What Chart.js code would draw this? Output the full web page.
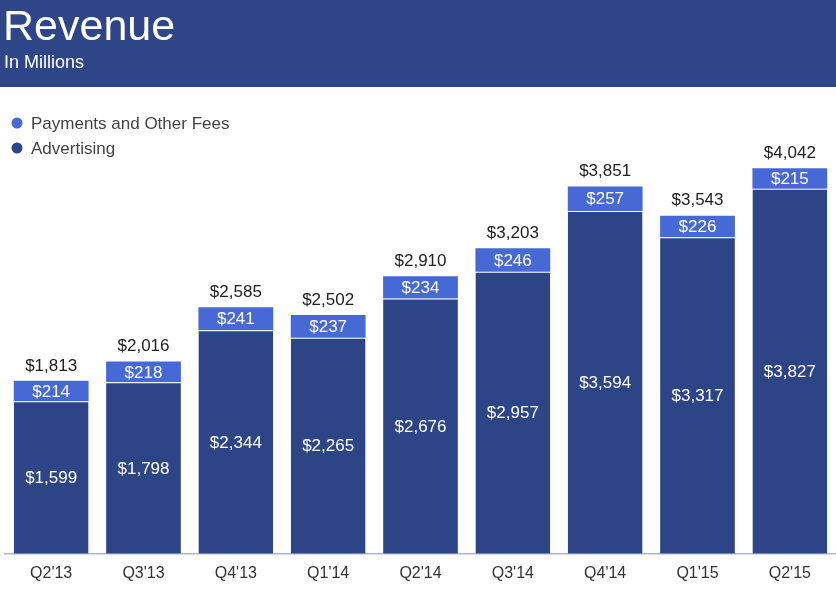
<!DOCTYPE html>
<html>
<head>
<meta charset="utf-8">
<script src="https://cdn.jsdelivr.net/npm/chart.js@4/dist/chart.umd.min.js"></script>
<style>
html,body{margin:0;padding:0;background:#fff;}
#wrap{position:relative;width:836px;height:596px;}
</style>
</head>
<body>
<div id="wrap"><canvas id="c" width="836" height="596"></canvas></div>
<script>
const categories = ["Q2'13","Q3'13","Q4'13","Q1'14","Q2'14","Q3'14","Q4'14","Q1'15","Q2'15"];
const advertising = [1599,1798,2344,2265,2676,2957,3594,3317,3827];
const payments = [214,218,241,237,234,246,257,226,215];
const title = "Revenue";
const subtitle = "In Millions";

const FONT = "'Liberation Sans', Arial, Helvetica, sans-serif";
const DARK = "#2D4487";
const LIGHT = "#4769D6";
const HEADER = "#2E4688";

function money(v){ return "$" + v.toLocaleString("en-US"); }

const decor = {
  id: 'decor',
  beforeDraw(chart){
    const ctx = chart.ctx;
    ctx.save();
    ctx.fillStyle = HEADER;
    ctx.fillRect(0,0,chart.width,87);
    ctx.fillStyle = "#fff";
    ctx.textBaseline = "alphabetic";
    ctx.textAlign = "left";
    ctx.font = "43px " + FONT;
    ctx.fillText(title, 3, 40);
    ctx.font = "18px " + FONT;
    ctx.fillText(subtitle, 4, 68);
    const items = [chart.data.datasets[1], chart.data.datasets[0]];
    ctx.font = "17px " + FONT;
    ctx.textBaseline = "middle";
    items.forEach((ds,i)=>{
      const y = 123 + i*25;
      ctx.fillStyle = ds.backgroundColor;
      ctx.beginPath(); ctx.arc(17, y, 5.5, 0, Math.PI*2); ctx.fill();
      ctx.fillStyle = "#444";
      ctx.fillText(ds.label, 31, y+1);
    });
    ctx.restore();
  },
  afterDatasetsDraw(chart){
    const ctx = chart.ctx;
    const m0 = chart.getDatasetMeta(0), m1 = chart.getDatasetMeta(1);
    ctx.save();
    ctx.font = "17px " + FONT;
    ctx.textAlign = "center";
    ctx.textBaseline = "middle";
    m0.data.forEach((bar,i)=>{
      const a = bar, p = m1.data[i];
      ctx.fillStyle = "#fff";
      ctx.fillText(money(advertising[i]), a.x, (a.y + a.base)/2 + 1);
      ctx.fillText(money(payments[i]), p.x, (p.y + p.base)/2 + 1);
      ctx.fillStyle = "#222";
      ctx.fillText(money(advertising[i]+payments[i]), p.x, p.y - 15);
    });
    ctx.restore();
  }
};

new Chart(document.getElementById('c'), {
  type: 'bar',
  data: {
    labels: categories,
    datasets: [
      {label:"Advertising", data: advertising, backgroundColor: DARK,
       borderColor:"#fff", borderWidth:{top:1,left:0,right:0,bottom:0}, borderSkipped:false},
      {label:"Payments and Other Fees", data: payments, backgroundColor: LIGHT, borderWidth:0}
    ]
  },
  options: {
    responsive:false,
    animation:false,
    layout:{padding:{top:134,left:5,right:0,bottom:11}},
    datasets:{bar:{categoryPercentage:1, barPercentage:0.81}},
    plugins:{legend:{display:false}, tooltip:{enabled:false}},
    scales:{
      x:{stacked:true, grid:{display:false}, border:{display:true,color:"#A9B7DF",width:1.5},
         ticks:{color:"#333", padding:2, font:{family:FONT,size:16}}},
      y:{stacked:true, display:false, min:0, max:4400}
    }
  },
  plugins:[decor]
});
</script>
</body>
</html>
